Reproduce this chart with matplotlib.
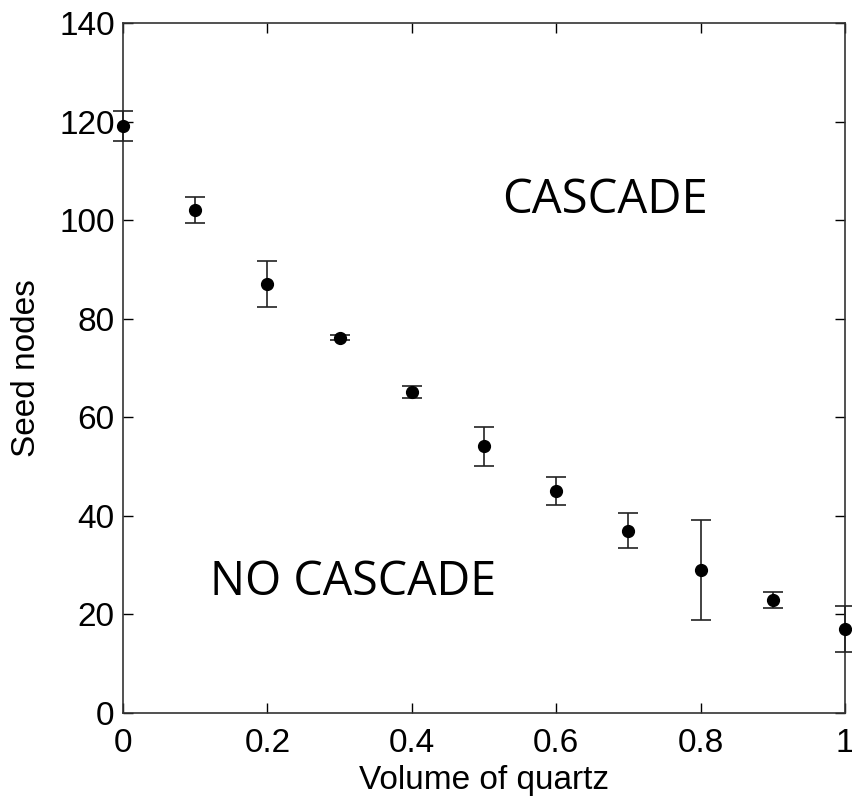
import matplotlib
matplotlib.use('Agg')
import matplotlib.pyplot as plt

quartz_volume = [0.0, 0.1, 0.2, 0.3, 0.4, 0.5, 0.6, 0.7, 0.8, 0.9, 1.0]
seed_nodes = [119.1, 102.0, 87.1, 76.1, 65.1, 54.1, 45.0, 37.0, 29.0, 23.0, 17.1]
seed_err = [3.0, 2.6, 4.7, 0.5, 1.2, 4.0, 2.8, 3.6, 10.2, 1.6, 4.7]

xticks = [0, 0.2, 0.4, 0.6, 0.8, 1]
xtick_labels = ['0', '0.2', '0.4', '0.6', '0.8', '1']
yticks = [0, 20, 40, 60, 80, 100, 120, 140]

plt.rcParams['font.family'] = ['Liberation Sans', 'DejaVu Sans']

fig = plt.figure(figsize=(8.52, 7.98), dpi=100)
ax = fig.add_axes([123 / 852, 1 - 713 / 798, (845 - 123) / 852, (713 - 23) / 798])

ax.errorbar(quartz_volume, seed_nodes, yerr=seed_err, fmt='o', color='black',
            ecolor='#222222', elinewidth=1.2, capsize=7, capthick=1.2,
            markersize=8.5, clip_on=False, zorder=3)

ax.set_xlim(0, 1)
ax.set_ylim(0, 140)
ax.set_xticks(xticks)
ax.set_xticklabels(xtick_labels)
ax.set_yticks(yticks)
ax.tick_params(direction='in', length=7, width=1, top=True, right=True,
               labelsize=24, pad=6)
ax.tick_params(axis='x', pad=11)
for s in ax.spines.values():
    s.set_linewidth(1.2)
    s.set_color('#333333')

ax.set_xlabel('Volume of quartz', fontsize=24, labelpad=4)
ax.set_ylabel('Seed nodes', fontsize=24, labelpad=12)

ax.text(0.667, 104, 'CASCADE', fontsize=34, family=['Open Sans', 'DejaVu Sans'],
        ha='center', va='center')
ax.text(0.319, 26.5, 'NO CASCADE', fontsize=33.5, family=['Open Sans', 'DejaVu Sans'],
        ha='center', va='center')

fig.savefig('out.png', dpi=100)
